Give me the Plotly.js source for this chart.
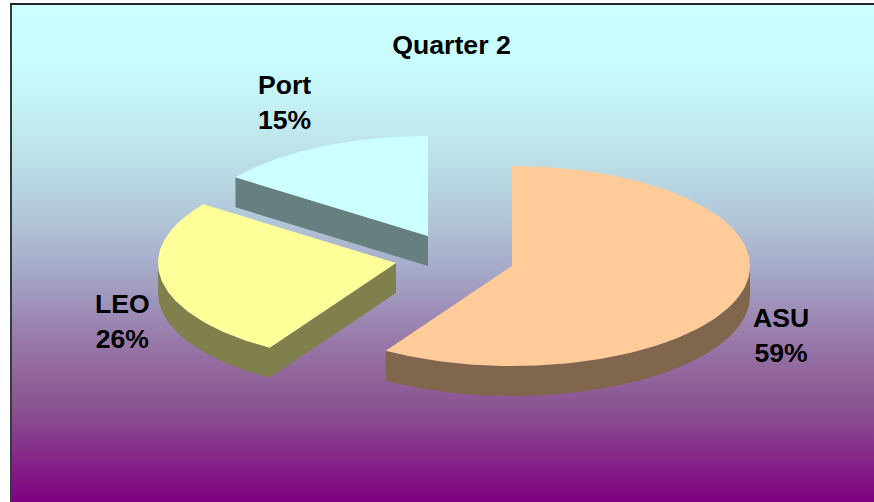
<!DOCTYPE html>
<html>
<head>
<meta charset="utf-8">
<script src="https://cdn.plot.ly/plotly-3.0.1.min.js"></script>
<style>
html,body{margin:0;padding:0;background:#fff;width:874px;height:502px;overflow:hidden}
#frame{position:absolute;left:10px;top:3px;width:864px;height:499px;box-sizing:border-box;
  border-top:2px solid #222;border-left:2px solid #2f3f3f;
  background:linear-gradient(to bottom,#ccffff 0px,#c9fcfd 57px,#bde3e9 147px,#b1c5d8 217px,#a5a8c8 267px,#9878a8 337px,#8a5090 407px,#800080 497px)}
#chart{position:absolute;left:0;top:0;width:874px;height:502px}
</style>
</head>
<body>
<div id="frame"></div>
<div id="chart"></div>
<script>
const titleText = "Quarter 2";
const categories = ["ASU", "LEO", "Port"];
const values = [58.9, 26.1, 15];
const topColors = ["#FFCC99", "#FFFF99", "#CCFFFF"];
const wallColors = ["#80664D", "#80804D", "#668080"];
const apexX = [512, 396, 428];
const apexY = [266, 263, 236];
const labelX = [781, 122, 284.5];
const labelY = [335.5, 321.3, 102.3];

const RX = 238, RY = 100, DEPTH = 30;
const FONT = "Liberation Sans, Arial, sans-serif";
const total = values.reduce((a, b) => a + b, 0);

function pt(i, deg, dz) {
  const r = deg * Math.PI / 180;
  return [apexX[i] + RX * Math.sin(r), apexY[i] - RY * Math.cos(r) + (dz || 0)];
}
function arc(i, a0, a1, dz) {
  const pts = [], n = Math.max(2, Math.ceil(Math.abs(a1 - a0)));
  for (let k = 0; k <= n; k++) pts.push(pt(i, a0 + (a1 - a0) * k / n, dz));
  return pts;
}
function poly(pts, color, name) {
  return {
    type: "scatter", mode: "lines", x: pts.map(p => p[0]), y: pts.map(p => p[1]),
    fill: "toself", fillcolor: color, line: {width: 0, color: color},
    showlegend: false, name: name, hoverinfo: "name"
  };
}

const start = [], end = [];
let acc = 0;
values.forEach((v, i) => { start[i] = acc; acc += v / total * 360; end[i] = acc; });

const traces = [];
[2, 1, 0].forEach(i => {
  const a0 = start[i], a1 = end[i];
  const apexTop = [apexX[i], apexY[i]];
  const apexBot = [apexX[i], apexY[i] + DEPTH];
  // outer curved wall: the part of the rim facing the viewer (90..270 deg)
  const w0 = Math.max(a0, 90), w1 = Math.min(a1, 270);
  if (w1 > w0) {
    traces.push(poly(arc(i, w0, w1, 0).concat(arc(i, w1, w0, DEPTH)), wallColors[i], categories[i]));
  }
  // cut wall on the slice's starting radius, visible when it faces the viewer
  if (a0 > 180 && a0 < 360) {
    traces.push(poly([apexTop, pt(i, a0), pt(i, a0, DEPTH), apexBot], wallColors[i], categories[i]));
  }
  // top face
  traces.push(poly([apexTop].concat(arc(i, a0, a1, 0)), topColors[i], categories[i]));
});

const annotations = categories.map((c, i) => ({
  x: labelX[i], y: labelY[i], xref: "x", yref: "y", showarrow: false,
  xanchor: "center", yanchor: "middle", align: "center",
  text: "<b>" + c + "</b><br><b>" + Math.round(values[i] / total * 100) + "%</b>",
  font: {family: FONT, size: 26.6, color: "#000"}
}));

const layout = {
  width: 874, height: 502,
  margin: {l: 0, r: 0, t: 0, b: 0},
  paper_bgcolor: "rgba(0,0,0,0)", plot_bgcolor: "rgba(0,0,0,0)",
  title: {
    text: "<b>" + titleText + "</b>", x: 451.5 / 874, y: 1 - 45 / 502,
    xref: "paper", yref: "paper", xanchor: "center", yanchor: "middle",
    font: {family: FONT, size: 26.7, color: "#000"}
  },
  xaxis: {range: [0, 874], visible: false, fixedrange: true},
  yaxis: {range: [502, 0], visible: false, fixedrange: true},
  annotations: annotations
};
Plotly.newPlot("chart", traces, layout, {displayModeBar: false, staticPlot: true});
</script>
</body>
</html>
